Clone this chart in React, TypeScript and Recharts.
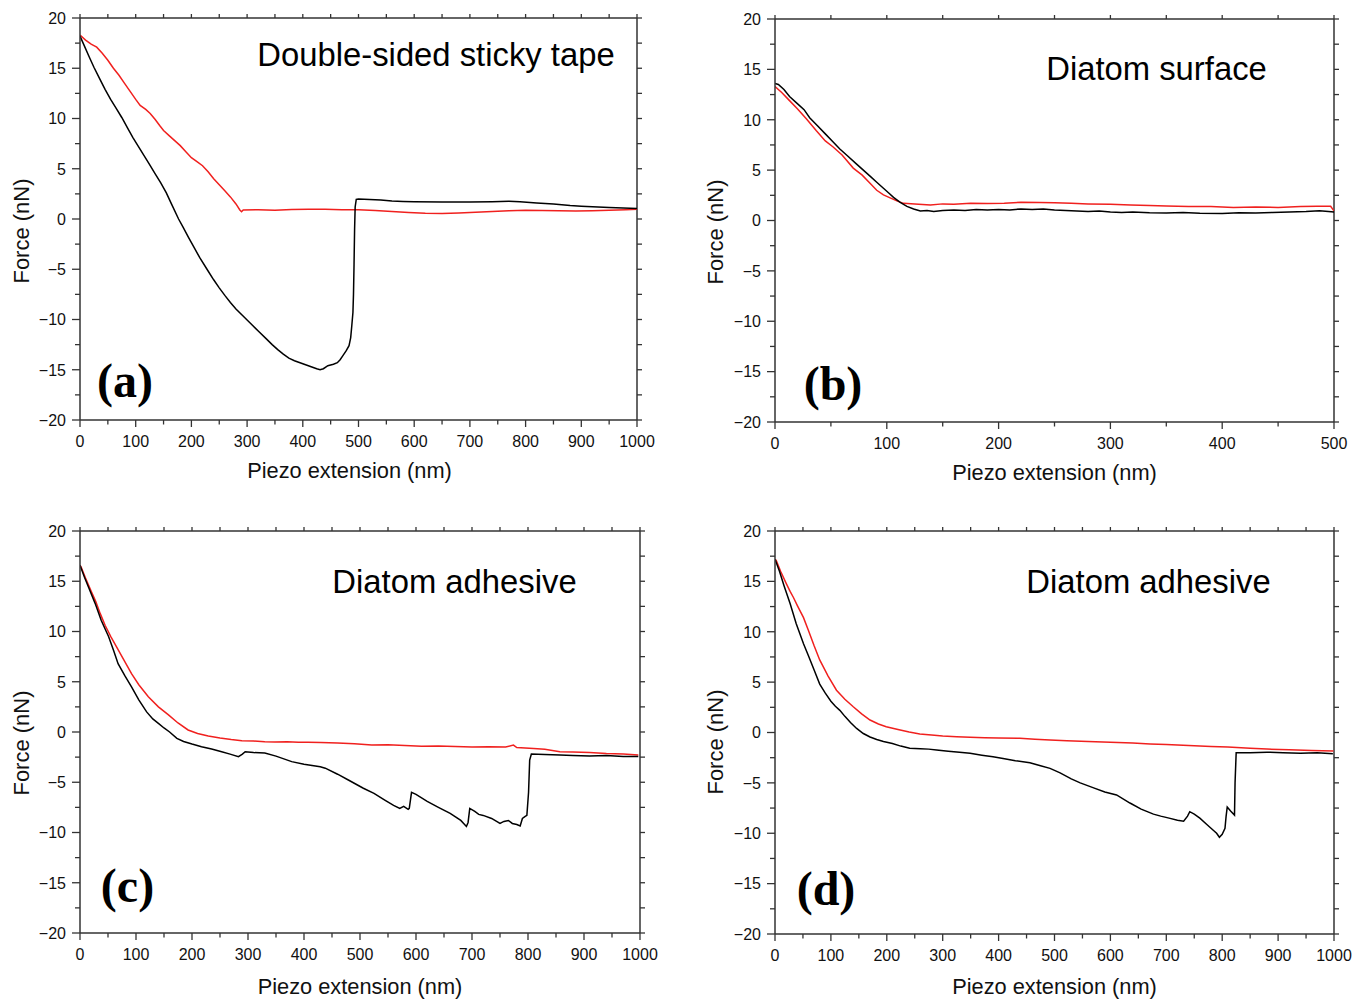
import { LineChart, Line, XAxis, YAxis, ReferenceLine } from 'recharts';

// force (nN) vs piezo extension (nm); red = approach, black = retract
const tapeApproach: [number, number][] = [
  [0, 18.3], [10, 17.8], [20, 17.4], [30, 17.1], [40, 16.5], [50, 15.8], [60, 15.0], [70, 14.3],
  [80, 13.5], [90, 12.7], [100, 11.9], [108, 11.3], [118, 10.9], [126, 10.5], [135, 9.9], [143, 9.3],
  [150, 8.8], [160, 8.3], [170, 7.8], [180, 7.3], [190, 6.7], [200, 6.1], [210, 5.7], [220, 5.3],
  [230, 4.7], [240, 4.0], [250, 3.4], [260, 2.8], [270, 2.2], [280, 1.5], [287, 0.9], [290, 0.72],
  [293, 0.9], [320, 0.92], [350, 0.88], [380, 0.95], [410, 0.98], [440, 0.96], [470, 0.93], [500, 0.92],
  [530, 0.85], [560, 0.74], [590, 0.65], [620, 0.57], [650, 0.55], [680, 0.6], [710, 0.68], [740, 0.74],
  [770, 0.82], [800, 0.86], [830, 0.84], [860, 0.82], [890, 0.79], [920, 0.82], [950, 0.88], [980, 0.93],
  [1000, 0.98],
];
const tapeRetract: [number, number][] = [
  [0, 18.2], [8, 17.2], [16, 16.2], [25, 15.1], [35, 14.0], [45, 12.9], [55, 11.9], [65, 11.0],
  [75, 10.1], [85, 9.1], [95, 8.1], [105, 7.2], [115, 6.3], [125, 5.4], [135, 4.5], [145, 3.6],
  [155, 2.6], [165, 1.4], [177, 0.0], [185, -0.8], [195, -1.85], [205, -2.85], [215, -3.85], [228, -5.0],
  [240, -6.05], [250, -6.85], [260, -7.6], [270, -8.3], [280, -8.95], [290, -9.5], [300, -10.05], [310, -10.6],
  [320, -11.15], [335, -11.95], [345, -12.5], [355, -13.0], [365, -13.45], [375, -13.85], [385, -14.1],
  [395, -14.3], [405, -14.5], [415, -14.7], [425, -14.9], [431, -15.0], [437, -14.9], [445, -14.6],
  [455, -14.45], [462, -14.3], [467, -14.0], [472, -13.6], [478, -13.1], [483, -12.6], [486, -11.8],
  [488, -10.6], [490, -9.3], [491, -7.5], [492, -4.5], [493, -1.0], [494, 1.2], [496, 1.95], [500, 2.0],
  [520, 1.95], [540, 1.9], [560, 1.8], [580, 1.75], [600, 1.72], [650, 1.7], [700, 1.7], [740, 1.72],
  [770, 1.76], [790, 1.72], [820, 1.6], [850, 1.5], [880, 1.35], [900, 1.28], [950, 1.15], [1000, 1.05],
];

const surfaceApproach: [number, number][] = [
  [0, 13.3], [6, 12.7], [13, 11.9], [20, 11.1], [28, 10.1], [37, 8.9], [45, 7.9], [52, 7.3],
  [60, 6.5], [70, 5.2], [78, 4.5], [85, 3.7], [91, 3.0], [97, 2.55], [103, 2.25], [109, 1.95],
  [115, 1.7], [125, 1.65], [139, 1.55], [150, 1.65], [160, 1.62], [175, 1.7], [190, 1.68], [205, 1.72],
  [220, 1.8], [237, 1.78], [250, 1.75], [265, 1.7], [280, 1.65], [300, 1.62], [318, 1.55], [335, 1.5],
  [350, 1.45], [370, 1.4], [390, 1.38], [410, 1.3], [430, 1.35], [450, 1.3], [470, 1.38], [485, 1.42],
  [497, 1.42], [500, 0.95],
];
const surfaceRetract: [number, number][] = [
  [0, 13.6], [3, 13.5], [8, 13.0], [13, 12.3], [20, 11.6], [26, 11.0], [31, 10.2], [38, 9.4],
  [45, 8.6], [52, 7.8], [58, 7.1], [65, 6.4], [73, 5.6], [80, 4.9], [86, 4.3], [91, 3.8],
  [97, 3.2], [102, 2.7], [106, 2.3], [112, 1.8], [118, 1.4], [124, 1.15], [130, 0.95], [136, 1.0],
  [142, 0.9], [150, 1.0], [160, 1.05], [170, 1.0], [180, 1.1], [190, 1.05], [200, 1.1], [210, 1.05],
  [220, 1.15], [230, 1.1], [240, 1.15], [250, 1.05], [260, 1.0], [270, 0.95], [280, 0.9], [290, 0.95],
  [300, 0.85], [310, 0.8], [320, 0.85], [335, 0.78], [350, 0.75], [365, 0.8], [380, 0.72], [400, 0.7],
  [415, 0.78], [430, 0.75], [445, 0.8], [460, 0.85], [475, 0.9], [487, 0.97], [495, 0.9], [500, 0.85],
];

const adhesiveApproachC: [number, number][] = [
  [0, 16.6], [2, 16.4], [10, 15.3], [20, 14.0], [28, 13.0], [36, 11.8], [45, 10.6], [55, 9.5],
  [68, 8.2], [80, 7.0], [92, 5.8], [105, 4.7], [122, 3.5], [140, 2.5], [158, 1.7], [175, 0.9],
  [193, 0.2], [210, -0.15], [229, -0.4], [250, -0.6], [270, -0.75], [289, -0.86], [310, -0.9], [330, -0.97],
  [348, -1.0], [370, -0.98], [390, -1.02], [407, -1.03], [430, -1.05], [460, -1.1], [490, -1.18], [521, -1.3],
  [550, -1.28], [580, -1.35], [610, -1.42], [640, -1.4], [670, -1.45], [700, -1.5], [730, -1.48], [760, -1.5],
  [774, -1.3], [780, -1.55], [810, -1.65], [830, -1.72], [857, -1.96], [880, -2.0], [910, -2.05], [940, -2.15],
  [970, -2.2], [997, -2.3],
];
const adhesiveRetractC: [number, number][] = [
  [0, 16.6], [8, 15.4], [16, 14.3], [27, 12.8], [38, 11.1], [51, 9.5], [60, 8.1], [68, 6.8],
  [80, 5.6], [92, 4.5], [105, 3.2], [119, 2.0], [130, 1.3], [140, 0.86], [150, 0.4], [160, 0.0],
  [173, -0.63], [185, -0.95], [200, -1.2], [217, -1.46], [235, -1.7], [253, -1.96], [268, -2.2], [283, -2.45],
  [290, -2.2], [295, -1.96], [310, -2.05], [330, -2.1], [350, -2.4], [378, -2.95], [400, -3.2], [429, -3.45],
  [438, -3.6], [460, -4.2], [480, -4.8], [506, -5.6], [525, -6.1], [545, -6.8], [560, -7.3], [571, -7.6],
  [578, -7.4], [586, -7.7], [588, -7.6], [592, -6.0], [600, -6.2], [620, -6.9], [640, -7.5], [661, -8.1],
  [680, -8.8], [690, -9.4], [693, -9.0], [696, -7.6], [705, -7.9], [712, -8.2], [720, -8.3], [735, -8.6],
  [750, -9.1], [757, -8.9], [765, -8.8], [772, -9.1], [780, -9.2], [786, -9.35], [790, -8.6], [795, -8.4],
  [798, -8.3], [801, -6.0], [803, -2.8], [806, -2.2], [830, -2.25], [857, -2.3], [880, -2.35], [910, -2.4],
  [940, -2.35], [970, -2.45], [997, -2.45],
];

const adhesiveApproachD: [number, number][] = [
  [0, 17.2], [2, 17.1], [10, 16.0], [20, 14.8], [27, 14.0], [33, 13.4], [40, 12.6], [51, 11.4],
  [60, 10.1], [70, 8.6], [80, 7.2], [95, 5.6], [110, 4.2], [125, 3.3], [140, 2.55], [155, 1.85],
  [170, 1.24], [185, 0.85], [199, 0.58], [220, 0.3], [240, 0.05], [259, -0.15], [280, -0.25], [300, -0.35],
  [325, -0.42], [349, -0.48], [375, -0.52], [400, -0.55], [438, -0.58], [465, -0.68], [492, -0.75], [522, -0.82],
  [560, -0.9], [600, -0.98], [640, -1.05], [671, -1.14], [700, -1.2], [740, -1.3], [780, -1.38], [810, -1.45],
  [850, -1.57], [880, -1.65], [920, -1.72], [960, -1.78], [999, -1.84],
];
const adhesiveRetractD: [number, number][] = [
  [0, 17.2], [8, 16.0], [16, 14.6], [27, 12.8], [38, 10.8], [51, 8.8], [60, 7.6], [70, 6.2],
  [80, 4.8], [90, 3.9], [100, 3.1], [108, 2.6], [116, 2.2], [125, 1.6], [135, 1.0], [146, 0.4],
  [158, -0.1], [170, -0.45], [182, -0.7], [194, -0.9], [210, -1.1], [225, -1.35], [241, -1.57], [260, -1.62],
  [275, -1.65], [289, -1.74], [310, -1.85], [330, -1.95], [349, -2.07], [370, -2.25], [390, -2.4], [408, -2.57],
  [430, -2.8], [456, -3.0], [475, -3.3], [492, -3.56], [510, -4.0], [530, -4.6], [546, -5.0], [570, -5.5],
  [590, -5.9], [611, -6.2], [635, -7.0], [655, -7.6], [677, -8.1], [690, -8.3], [705, -8.5], [720, -8.7],
  [731, -8.8], [738, -8.3], [742, -7.86], [750, -8.1], [760, -8.5], [772, -9.1], [784, -9.7], [790, -10.0],
  [795, -10.4], [800, -10.1], [805, -9.5], [807, -8.3], [809, -7.4], [815, -7.8], [822, -8.2], [823, -5.0],
  [825, -2.0], [850, -2.0], [880, -1.95], [909, -2.0], [940, -2.05], [970, -2.0], [998, -2.1],
];

const forceTicks = [-20, -17.5, -15, -12.5, -10, -7.5, -5, -2.5, 0, 2.5, 5, 7.5, 10, 12.5, 15, 17.5, 20];
const extTicks1000 = [0, 50, 100, 150, 200, 250, 300, 350, 400, 450, 500, 550, 600, 650, 700, 750, 800, 850, 900, 950, 1000];
const extTicks500 = [0, 50, 100, 150, 200, 250, 300, 350, 400, 450, 500];

const AXIS = '#333';
const RED = '#f0201e';
const SANS = '"Liberation Sans", Arial, sans-serif';
const SERIF = '"Liberation Serif", "Times New Roman", serif';
const AXIS_BAND = 50; // room reserved for tick labels inside the margins

const toPts = (arr: [number, number][]) => arr.map(([x, y]) => ({ x, y }));
const fmt = (v: number) => (v < 0 ? `\u2212${Math.abs(v)}` : `${v}`);

type PanelProps = {
  left: number;
  top: number;
  width: number;
  height: number;
  margin: { top: number; right: number; bottom: number; left: number };
  xMax: number;
  xTicks: number[];
  approach: [number, number][];
  retract: [number, number][];
};

function Panel({ left, top, width, height, margin, xMax, xTicks, approach, retract }: PanelProps) {
  const plotTop = margin.top;
  const plotRight = width - margin.right;
  const chartMargin = {
    top: margin.top,
    right: margin.right,
    left: margin.left - AXIS_BAND,
    bottom: margin.bottom - AXIS_BAND,
  };

  const XTick = (props: any) => {
    const { x, y, payload } = props;
    const major = payload.value % 100 === 0;
    return (
      <g>
        <line x1={x} x2={x} y1={y} y2={y + (major ? 7 : 4.5)} stroke={AXIS} strokeWidth={1.3} />
        <line x1={x} x2={x} y1={plotTop} y2={plotTop - 4} stroke={AXIS} strokeWidth={1.3} />
        {major && (
          <text x={x} y={y + 27} textAnchor="middle" fontSize={16} fontFamily={SANS} fill="#111">
            {payload.value}
          </text>
        )}
      </g>
    );
  };

  const YTick = (props: any) => {
    const { x, y, payload } = props;
    const major = payload.value % 5 === 0;
    return (
      <g>
        <line x1={x - (major ? 8 : 5)} x2={x} y1={y} y2={y} stroke={AXIS} strokeWidth={1.3} />
        <line x1={plotRight} x2={plotRight + 5} y1={y} y2={y} stroke={AXIS} strokeWidth={1.3} />
        {major && (
          <text x={x - 14} y={y + 5.8} textAnchor="end" fontSize={16} fontFamily={SANS} fill="#111">
            {fmt(payload.value)}
          </text>
        )}
      </g>
    );
  };

  return (
    <div style={{ position: 'absolute', left, top, width, height }}>
      <LineChart width={width} height={height} margin={chartMargin}>
        <XAxis
          type="number"
          dataKey="x"
          domain={[0, xMax]}
          ticks={xTicks}
          interval={0}
          height={AXIS_BAND}
          tickSize={0}
          tickMargin={0}
          tickLine={false}
          tick={XTick}
          axisLine={{ stroke: AXIS, strokeWidth: 1.5 }}
          allowDataOverflow
        />
        <YAxis
          type="number"
          domain={[-20, 20]}
          ticks={forceTicks}
          interval={0}
          width={AXIS_BAND}
          tickSize={0}
          tickMargin={0}
          tickLine={false}
          tick={YTick}
          axisLine={{ stroke: AXIS, strokeWidth: 1.5 }}
          allowDataOverflow
        />
        <ReferenceLine y={20} stroke={AXIS} strokeWidth={1.5} />
        <ReferenceLine x={xMax} stroke={AXIS} strokeWidth={1.5} />
        <Line
          data={toPts(approach)}
          dataKey="y"
          stroke={RED}
          strokeWidth={1.5}
          dot={false}
          type="linear"
          isAnimationActive={false}
        />
        <Line
          data={toPts(retract)}
          dataKey="y"
          stroke="#000"
          strokeWidth={1.5}
          dot={false}
          type="linear"
          isAnimationActive={false}
        />
      </LineChart>
    </div>
  );
}

const titles = [
  { text: 'Double-sided sticky tape', x: 436, y: 66 },
  { text: 'Diatom surface', x: 1156.5, y: 80 },
  { text: 'Diatom adhesive', x: 454.5, y: 593 },
  { text: 'Diatom adhesive', x: 1148.5, y: 593 },
];
const letters = [
  { text: '(a)', x: 125, y: 397 },
  { text: '(b)', x: 833, y: 400 },
  { text: '(c)', x: 127.5, y: 902 },
  { text: '(d)', x: 826, y: 905 },
];
const xLabels = [
  { x: 349.5, y: 478 },
  { x: 1054.5, y: 480 },
  { x: 360, y: 994 },
  { x: 1054.5, y: 994 },
];
const yLabels = [
  { x: 29, y: 231 },
  { x: 723, y: 232 },
  { x: 29, y: 743 },
  { x: 723, y: 742 },
];

export default function App() {
  return (
    <div style={{ position: 'absolute', left: 0, top: 0, width: 1361, height: 1000, background: '#fff' }}>
      <Panel left={0} top={0} width={680} height={500} margin={{ top: 18, right: 43, bottom: 80, left: 80 }}
        xMax={1000} xTicks={extTicks1000} approach={tapeApproach} retract={tapeRetract} />
      <Panel left={690} top={0} width={671} height={500} margin={{ top: 19, right: 27, bottom: 78, left: 85 }}
        xMax={500} xTicks={extTicks500} approach={surfaceApproach} retract={surfaceRetract} />
      <Panel left={0} top={500} width={680} height={500} margin={{ top: 31, right: 40, bottom: 67, left: 80 }}
        xMax={1000} xTicks={extTicks1000} approach={adhesiveApproachC} retract={adhesiveRetractC} />
      <Panel left={690} top={500} width={671} height={500} margin={{ top: 31, right: 27, bottom: 66, left: 85 }}
        xMax={1000} xTicks={extTicks1000} approach={adhesiveApproachD} retract={adhesiveRetractD} />
      <svg width={1361} height={1000} style={{ position: 'absolute', left: 0, top: 0, pointerEvents: 'none' }}>
        {titles.map((t, i) => (
          <text key={`t${i}`} x={t.x} y={t.y} textAnchor="middle" fontSize={32.8} fontFamily={SANS} fill="#000">
            {t.text}
          </text>
        ))}
        {letters.map((t, i) => (
          <text key={`l${i}`} x={t.x} y={t.y} textAnchor="middle" fontSize={48} fontWeight="bold" fontFamily={SERIF} fill="#000">
            {t.text}
          </text>
        ))}
        {xLabels.map((t, i) => (
          <text key={`x${i}`} x={t.x} y={t.y} textAnchor="middle" fontSize={21.8} fontFamily={SANS} fill="#111">
            Piezo extension (nm)
          </text>
        ))}
        {yLabels.map((t, i) => (
          <text key={`y${i}`} x={t.x} y={t.y} textAnchor="middle" fontSize={22} fontFamily={SANS} fill="#111"
            transform={`rotate(-90 ${t.x} ${t.y})`}>
            Force (nN)
          </text>
        ))}
      </svg>
    </div>
  );
}
